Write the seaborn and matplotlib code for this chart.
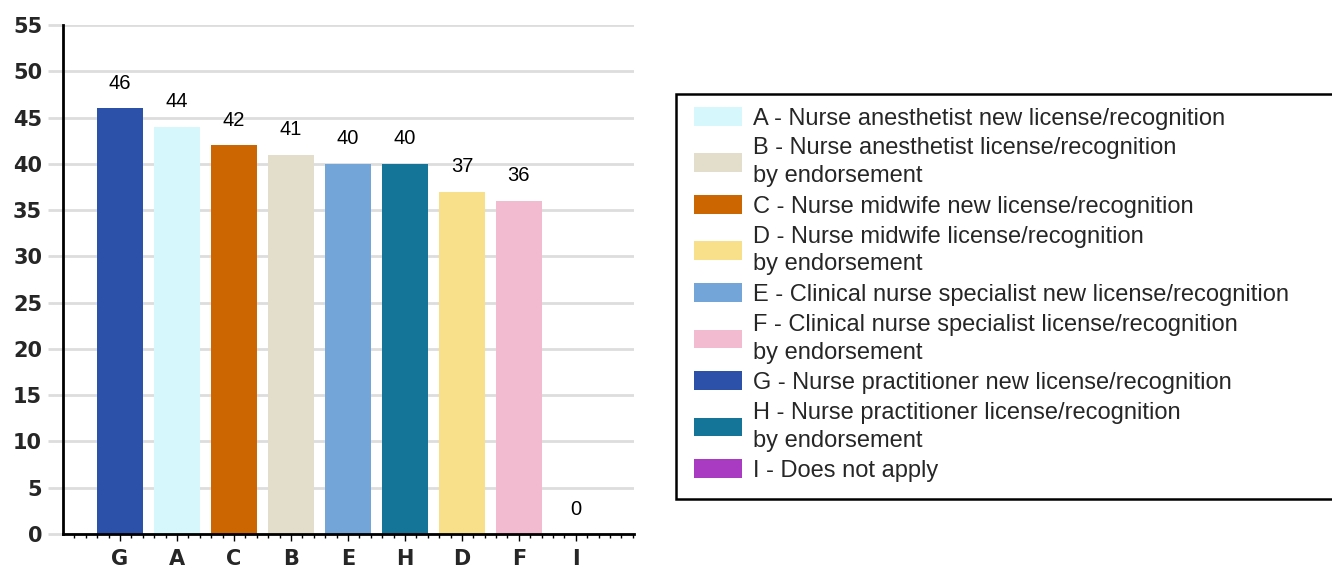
import matplotlib
matplotlib.use("Agg")
import matplotlib.pyplot as plt
from matplotlib.patches import Patch, Rectangle
from matplotlib.ticker import MultipleLocator, FixedLocator
import seaborn as sns
import pandas as pd

# Data
order = ["G", "A", "C", "B", "E", "H", "D", "F", "I"]
values = [46, 44, 42, 41, 40, 40, 37, 36, 0]
legend_keys = ["A", "B", "C", "D", "E", "F", "G", "H", "I"]
legend_labels = [
    "A - Nurse anesthetist new license/recognition",
    "B - Nurse anesthetist license/recognition\nby endorsement",
    "C - Nurse midwife new license/recognition",
    "D - Nurse midwife license/recognition\nby endorsement",
    "E - Clinical nurse specialist new license/recognition",
    "F - Clinical nurse specialist license/recognition\nby endorsement",
    "G - Nurse practitioner new license/recognition",
    "H - Nurse practitioner license/recognition\nby endorsement",
    "I - Does not apply",
]
colors = {
    "A": "#D6F7FB", "B": "#E3DDCC", "C": "#CC6600", "D": "#F8DF8A",
    "E": "#74A5D8", "F": "#F2BBD0", "G": "#2B52A8", "H": "#157598",
    "I": "#A93BC3",
}

sns.set_theme(style="white")
plt.rcParams['font.family'] = ['Liberation Sans', 'DejaVu Sans']

W, H = 1332, 565
fig = plt.figure(figsize=(W / 100, H / 100), dpi=100)
ax = fig.add_axes([63 / W, 1 - 534 / H, (634 - 63) / W, (534 - 25) / H])

df = pd.DataFrame({"cat": order, "val": values})
sns.barplot(data=df, x="cat", y="val", hue="cat", order=order, hue_order=order,
            palette=colors, dodge=False, width=0.8, legend=False, ax=ax,
            saturation=1, linewidth=0)

ax.set_xlim(-1, 9.02)
ax.set_ylim(0, 55)
ax.yaxis.set_major_locator(MultipleLocator(5))
ax.grid(axis="y", color="#DDDDDD", linewidth=2)
ax.set_axisbelow(True)
for s in ["top", "right"]:
    ax.spines[s].set_visible(False)
for s in ["left", "bottom"]:
    ax.spines[s].set_color("black")
    ax.spines[s].set_linewidth(2)

ax.set_xlabel("")
ax.set_ylabel("")
ax.tick_params(axis="y", length=11, width=2, color="#DDDDDD", pad=4, left=True)
ax.tick_params(axis="x", which="major", length=5, width=1, color="black",
               pad=6, bottom=True)
minor = [i + k * 0.2 for i in range(-1, 9) for k in range(1, 5)] + [9.0]
ax.xaxis.set_minor_locator(FixedLocator(minor))
ax.tick_params(axis="x", which="minor", length=3, width=1, color="black", bottom=True)
for lab in ax.get_xticklabels() + ax.get_yticklabels():
    lab.set_fontweight("bold")
    lab.set_fontfamily("DejaVu Sans")
    lab.set_fontsize(15)

for i, v in enumerate(values):
    ax.text(i, v + 2.7, f"{v}", ha="center", va="center", fontsize=14.5, color="black")

# Legend (frame drawn separately so it runs off the right edge as in the source)
fig.patches.append(Rectangle((676 / W, 1 - 499 / H), (1345 - 676) / W, (499 - 94) / H,
                             transform=fig.transFigure, facecolor="white",
                             edgecolor="black", linewidth=1.8, zorder=0))
handles = [Patch(facecolor=colors[k], edgecolor="none") for k in legend_keys]
leg = fig.legend(handles, legend_labels, loc="upper left",
                 bbox_to_anchor=(694 / W, 1 - 107 / H), borderaxespad=0,
                 fontsize=17, frameon=False,
                 handlelength=2.03, handleheight=0.85, handletextpad=0.47,
                 labelspacing=0.33, borderpad=0)
for t in leg.get_texts():
    t.set_linespacing(1.35)

fig.savefig("out.png", dpi=100)
